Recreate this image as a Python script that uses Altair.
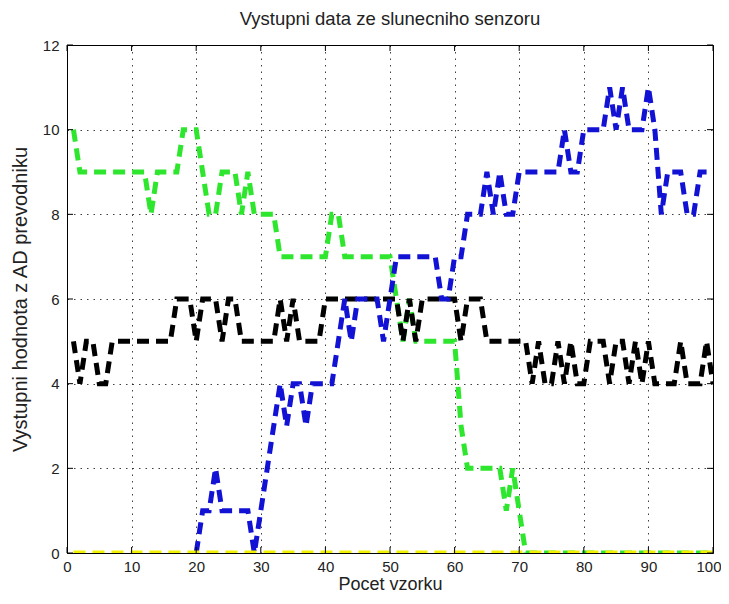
import altair as alt
import pandas as pd

# ---------------- data ----------------
x_main = list(range(1, 101))

green = [10, 9, 9, 9, 9, 9, 9, 9, 9, 9,
         9, 9, 8, 9, 9, 9, 9, 10, 10, 10,
         9, 8, 8, 9, 9, 9, 8, 9, 8, 8,
         8, 8, 7, 7, 7, 7, 7, 7, 7, 7,
         8, 8, 7, 7, 7, 7, 7, 7, 7, 7,
         6, 5, 6, 5, 5, 5, 5, 5, 5, 5,
         3, 2, 2, 2, 2, 2, 2, 1, 2, 1,
         0, 0, 0, 0, 0, 0, 0, 0, 0, 0,
         0, 0, 0, 0, 0, 0, 0, 0, 0, 0,
         0, 0, 0, 0, 0, 0, 0, 0, 0, 0]

black = [5, 4, 5, 5, 4, 4, 5, 5, 5, 5,
         5, 5, 5, 5, 5, 5, 6, 6, 6, 5,
         6, 6, 6, 5, 6, 6, 5, 5, 5, 5,
         5, 5, 6, 5, 6, 5, 5, 5, 5, 6,
         6, 6, 6, 6, 6, 6, 6, 6, 6, 6,
         6, 5, 6, 5, 6, 6, 6, 6, 6, 6,
         5, 6, 6, 6, 5, 5, 5, 5, 5, 5,
         5, 4, 5, 4, 4, 5, 4, 5, 4, 4,
         5, 5, 5, 4, 5, 5, 4, 5, 4, 5,
         4, 4, 4, 4, 5, 4, 4, 4, 5, 4]

x_blue = list(range(20, 101))
blue = [0,
        1, 1, 2, 1, 1, 1, 1, 1, 0, 1,
        2, 3, 4, 3, 4, 4, 3, 4, 4, 4,
        4, 5, 6, 5, 6, 6, 6, 6, 5, 6,
        7, 7, 7, 7, 7, 7, 7, 6, 6, 7,
        7, 8, 8, 8, 9, 8, 9, 8, 8, 9,
        9, 9, 9, 9, 9, 9, 10, 9, 9, 10,
        10, 10, 10, 11, 10, 11, 10, 10, 10, 11,
        10, 8, 9, 9, 9, 8, 8, 9, 9, 9]

yellow = [0, 0, 0, 0, 0, 0, 0, 0, 0, 0,
          0, 0, 0, 0, 0, 0, 0, 0, 0, 0,
          0, 0, 0, 0, 0, 0, 0, 0, 0, 0,
          0, 0, 0, 0, 0, 0, 0, 0, 0, 0,
          0, 0, 0, 0, 0, 0, 0, 0, 0, 0,
          0, 0, 0, 0, 0, 0, 0, 0, 0, 0,
          0, 0, 0, 0, 0, 0, 0, 0, 0, 0,
          0, 0, 0, 0, 0, 0, 0, 0, 0, 0,
          0, 0, 0, 0, 0, 0, 0, 0, 0, 0,
          0, 0, 0, 0, 0, 0, 0, 0, 0, 0]

x_ticks = [0, 10, 20, 30, 40, 50, 60, 70, 80, 90, 100]
y_ticks = [0, 2, 4, 6, 8, 10, 12]

title_text = "Vystupni data ze slunecniho senzoru"
x_label = "Pocet vzorku"
y_label = "Vystupni hodnota z AD prevodniku"

# ---------------- chart ----------------
W, H = 646, 508
FONT = "Liberation Sans"

xs = alt.Scale(domain=[0, 100], nice=False, zero=False)
ys = alt.Scale(domain=[0, 12], nice=False, zero=False)

x_axis = alt.Axis(
    values=x_ticks, title=x_label, grid=True, tickSize=0,
    labelPadding=6, titlePadding=1, format="d", labelFlush=False,
    labelAlign=alt.ConditionalAxisLabelAlign(
        condition={"test": "datum.value == 100", "value": "right"}, value="center"),
    labelOffset=alt.ConditionalAxisNumber(
        condition={"test": "datum.value == 100", "value": 8}, value=0),
    titleFontSize=18,
)
y_axis = alt.Axis(values=y_ticks, title=y_label, grid=True, tickSize=0,
                  labelPadding=8, titlePadding=12, format="d", titleFontSize=20)

X = lambda f: alt.X(f, scale=xs, axis=x_axis)
Y = lambda f: alt.Y(f, scale=ys, axis=y_axis)

def series_layer(xv, yv, color):
    df = pd.DataFrame({"x": xv, "y": yv})
    return alt.Chart(df).mark_line(
        color=color, strokeWidth=5, strokeDash=[12, 7], strokeCap="butt",
        strokeJoin="miter", clip=True
    ).encode(x=X("x:Q"), y=Y("y:Q"))

l_green = series_layer(x_main, green, "#2ee62e")
l_black = series_layer(x_main, black, "#000000")
l_blue = series_layer(x_blue, blue, "#1212d4")
l_yellow = series_layer(x_main, yellow, "#f2f200")

xt_df = pd.DataFrame({"v": x_ticks})
yt_df = pd.DataFrame({"v": y_ticks})

tick_x_bottom = alt.Chart(xt_df).mark_rule(color="#000", strokeWidth=1).encode(
    x=X("v:Q"), y=alt.value(H), y2=alt.value(H - 6))
tick_x_top = alt.Chart(xt_df).mark_rule(color="#000", strokeWidth=1).encode(
    x=X("v:Q"), y=alt.value(0), y2=alt.value(6))
tick_y_left = alt.Chart(yt_df).mark_rule(color="#000", strokeWidth=1).encode(
    y=Y("v:Q"), x=alt.value(0), x2=alt.value(6))
tick_y_right = alt.Chart(yt_df).mark_rule(color="#000", strokeWidth=1).encode(
    y=Y("v:Q"), x=alt.value(W), x2=alt.value(W - 6))

chart = alt.layer(
    l_green, l_black, l_blue, l_yellow,
    tick_x_bottom, tick_x_top, tick_y_left, tick_y_right
).properties(
    width=W, height=H,
    title=alt.TitleParams(title_text, font=FONT, fontSize=18.5, fontWeight="normal",
                          color="#222", offset=10, anchor="middle"),
    autosize=alt.AutoSizeParams(type="none"),
    padding={"left": 59, "top": 37, "right": 8, "bottom": 43},
    background="white",
).configure_view(
    stroke="#000", strokeWidth=1
).configure_axis(
    gridColor="#000", gridOpacity=0.75, gridDash=[1.5, 5], gridWidth=1,
    domain=False, labelFont=FONT, labelFontSize=15, labelColor="#222",
    titleFont=FONT, titleFontWeight="normal", titleColor="#222",
)

chart.save("out.html", embed_options={"renderer": "svg", "actions": False})
